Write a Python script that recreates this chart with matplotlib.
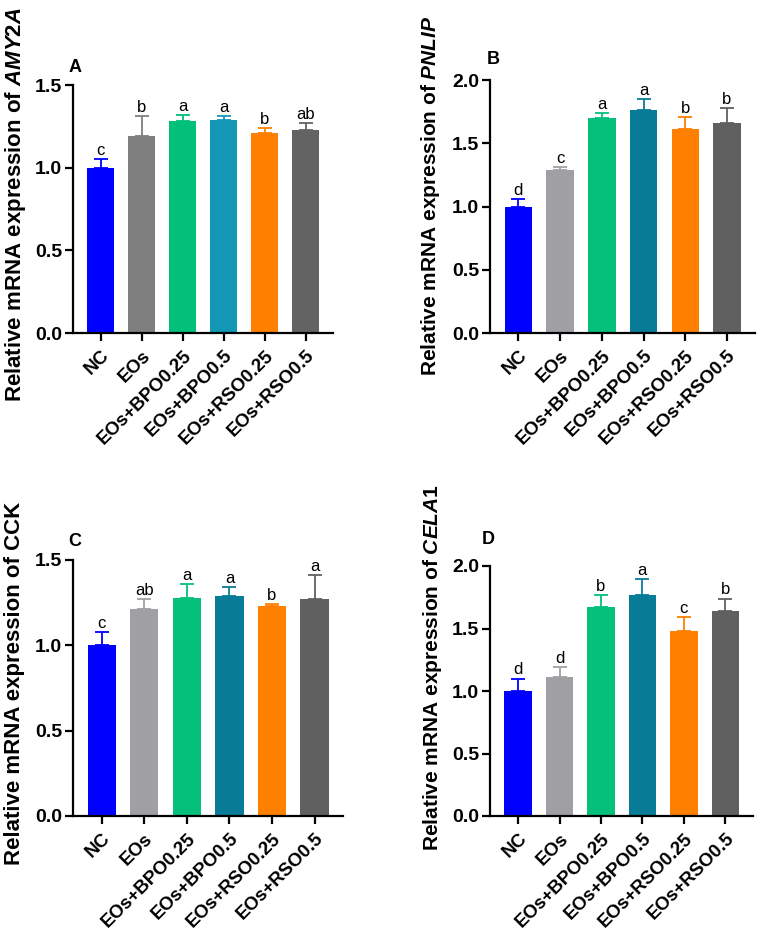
import numpy as np
import matplotlib
matplotlib.use("Agg")
import matplotlib.pyplot as plt

plt.rcParams['font.family'] = ['Liberation Sans', 'DejaVu Sans']
plt.rcParams['mathtext.fontset'] = 'custom'
plt.rcParams['mathtext.it'] = 'Liberation Sans:italic:bold'
plt.rcParams['mathtext.rm'] = 'Liberation Sans:bold'

groups = ["NC", "EOs", "EOs+BPO0.25", "EOs+BPO0.5", "EOs+RSO0.25", "EOs+RSO0.5"]

# panel A - AMY2A
amy_mean = [1.00, 1.19, 1.28, 1.29, 1.21, 1.23]
amy_err = [0.05, 0.12, 0.04, 0.02, 0.03, 0.04]
amy_sig = ["c", "b", "a", "a", "b", "ab"]

# panel B - PNLIP
pnlip_mean = [1.00, 1.29, 1.70, 1.76, 1.61, 1.66]
pnlip_err = [0.06, 0.02, 0.04, 0.09, 0.10, 0.12]
pnlip_sig = ["d", "c", "a", "a", "b", "b"]

# panel C - CCK
cck_mean = [1.00, 1.21, 1.28, 1.29, 1.23, 1.27]
cck_err = [0.08, 0.06, 0.08, 0.05, 0.013, 0.14]
cck_sig = ["c", "ab", "a", "a", "b", "a"]

# panel D - CELA1
cela_mean = [1.00, 1.11, 1.67, 1.77, 1.48, 1.64]
cela_err = [0.10, 0.08, 0.095, 0.125, 0.11, 0.10]
cela_sig = ["d", "d", "b", "a", "c", "b"]

colors_a = ['#0000FF', '#7F7F7F', '#02BF7A', '#1298B4', '#FF8000', '#636363']
colors_b = ['#0000FF', '#A0A0A4', '#05C07A', '#087C96', '#FF8000', '#606060']

W, H = 763, 939
fig = plt.figure(figsize=(W / 100, H / 100), dpi=100)


def px_axes(l, t, r, b):
    return fig.add_axes([l / W, 1 - b / H, (r - l) / W, (b - t) / H])


panels = [
    # (box l,t,r,b), means, errs, sig, colors, ymax, yticks, letter, letter pos, gene, italic, label pos, label size
    ((73, 85, 333, 333), amy_mean, amy_err, amy_sig, colors_a, 1.5, [0, 0.5, 1.0, 1.5], "A", (75, 67), "AMY2A", True, (16, 205), 16),
    ((490, 80, 755, 333), pnlip_mean, pnlip_err, pnlip_sig, colors_b, 2.0, [0, 0.5, 1.0, 1.5, 2.0], "B", (493, 60), "PNLIP", True, (430, 196), 15),
    ((73, 560, 343, 816), cck_mean, cck_err, cck_sig, colors_b, 1.5, [0, 0.5, 1.0, 1.5], "C", (75, 542), "CCK", False, (15, 683), 16),
    ((490, 566, 753, 816), cela_mean, cela_err, cela_sig, colors_b, 2.0, [0, 0.5, 1.0, 1.5, 2.0], "D", (488, 540), "CELA1", True, (432, 668), 15),
]

x = np.arange(len(groups))
for box, mean, err, sig, cols, ymax, yt, letter, let_pos, gene, ital, lab_pos, lab_fs in panels:
    ax = px_axes(*box)
    ax.bar(x, mean, width=0.66, color=cols, edgecolor='none', zorder=2)
    for i in range(len(x)):
        ax.errorbar(x[i], mean[i], yerr=[[0], [err[i]]], fmt='none', ecolor=cols[i],
                    elinewidth=1.3, capsize=5, capthick=1.3, zorder=3)
        ax.annotate(sig[i], (x[i], mean[i] + err[i]), xytext=(0, 3), textcoords='offset points',
                    ha='center', va='baseline', fontsize=12)
    ax.set_xlim(-0.68, 5.67)
    ax.set_ylim(0, ymax)
    ax.set_yticks(yt)
    ax.set_yticklabels(["%.1f" % v for v in yt], fontsize=14, fontweight='bold')
    ax.set_xticks(x)
    ax.set_xticklabels(groups, rotation=45, ha='right', va='top', rotation_mode='anchor',
                       fontsize=13.5, fontweight='bold')
    for s in ['top', 'right']:
        ax.spines[s].set_visible(False)
    for s in ['left', 'bottom']:
        ax.spines[s].set_linewidth(1.6)
    ax.tick_params(axis='both', width=1.6, length=6, pad=2)
    ax.tick_params(axis='x', pad=4)
    fig.text(let_pos[0] / W, 1 - let_pos[1] / H, letter, fontsize=13, fontweight='bold',
             ha='center', va='center')
    if ital:
        txt = "Relative mRNA expression of $\\mathit{" + gene + "}$"
    else:
        txt = "Relative mRNA expression of " + gene
    fig.text(lab_pos[0] / W, 1 - lab_pos[1] / H, txt, rotation=90, ha='center', va='center',
             fontsize=lab_fs, fontweight='bold')

fig.savefig("out.png", dpi=100)
